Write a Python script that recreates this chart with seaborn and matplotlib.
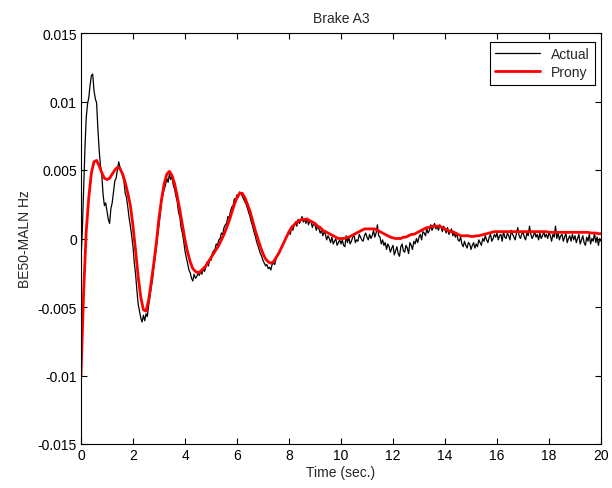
import numpy as np
import pandas as pd
import seaborn as sns
import matplotlib.pyplot as plt

# values, in units of 1e-3 Hz
actual_step = 0.05
actual_mhz = [
    -1.5, 0.5, 3.5, 6.5, 8.8, 9.8, 10.3, 11.2, 11.9, 12.0, 10.8, 10.2, 9.9, 8.0, 6.4, 5.3, 4.6, 3.2, 2.4, 2.6,
    2.0, 1.4, 1.1, 2.2, 2.6, 3.4, 4.2, 4.4, 5.0, 5.6, 5.2, 4.9, 4.6, 4.2, 3.3, 3.0, 2.3, 1.5, 0.9, 0.2,
    -0.6, -1.8, -2.6, -3.8, -4.8, -5.3, -5.8, -6.1, -5.6, -6.0, -5.5, -5.7, -4.9, -4.3, -3.6, -3.0, -2.1, -1.4, -0.6, 0.3,
    1.0, 1.8, 2.7, 3.2, 3.6, 3.9, 4.4, 4.1, 4.7, 4.3, 4.5, 3.9, 3.6, 3.1, 2.7, 1.9, 1.6, 0.8, 0.4, -0.2,
    -0.9, -1.4, -1.8, -2.3, -2.5, -2.9, -3.1, -2.6, -2.9, -2.8, -2.5, -2.7, -2.4, -2.6, -2.2, -2.4, -2.1, -1.7, -2.0, -1.5,
    -1.6, -1.1, -0.9, -0.8, -0.4, -0.5, -0.1, 0.0, 0.4, 0.3, 0.8, 1.0, 1.1, 1.6, 1.5, 2.0, 2.3, 2.4, 2.9, 2.7,
    3.2, 3.0, 3.4, 3.3, 3.1, 2.9, 2.7, 2.5, 2.2, 1.9, 1.6, 1.2, 0.9, 0.5, 0.2, -0.2, -0.5, -0.8, -1.1, -1.3,
    -1.6, -1.8, -2.0, -1.9, -2.2, -2.1, -2.3, -1.9, -1.8, -1.9, -1.5, -1.3, -1.1, -1.0, -0.7, -0.6, -0.3, -0.1, 0.1, 0.3,
    0.5, 0.3, 0.9, 0.6, 1.0, 1.2, 0.9, 1.4, 1.1, 1.3, 1.6, 1.2, 1.4, 1.1, 1.5, 1.0, 1.3, 1.2, 0.8, 1.1,
    1.0, 0.6, 0.9, 0.7, 0.4, 0.6, 0.2, 0.5, 0.3, -0.1, 0.2, 0.0, -0.3, 0.1, -0.4, -0.2, 0.0, -0.5, -0.3, -0.1,
    -0.4, -0.1, -0.5, -0.6, 0.2, -0.3, 0.1, -0.4, -0.2, 0.1, 0.3, -0.3, -0.1, -0.2, 0.3, 0.1, -0.1, -0.2, 0.2, 0.4,
    0.1, -0.1, 0.3, 0.0, 0.2, 0.6, 0.1, 0.4, 1.0, 0.2, 0.1, -0.4, -0.1, -0.5, -0.3, -0.8, -0.4, -0.6, -1.0, -0.7,
    -0.5, -1.2, -0.9, -0.6, -1.1, -1.3, -0.6, -0.4, -0.9, -1.0, -0.5, -0.7, -1.1, -0.3, -0.5, -0.8, -0.2, -0.4, 0.0, -0.3,
    0.1, 0.3, -0.1, 0.5, 0.4, 0.2, 0.7, 0.4, 0.6, 1.0, 0.6, 0.8, 1.1, 0.7, 0.9, 0.6, 1.0, 0.8, 0.5, 0.9,
    0.6, 0.4, 0.8, 0.3, 0.5, 0.7, 0.2, 0.4, 0.1, 0.4, -0.1, -0.2, 0.1, -0.4, -0.6, -0.2, -0.5, -0.7, -0.3, -0.4,
    -0.8, -0.5, -0.3, -0.7, -0.4, -0.6, -0.1, -0.3, -0.5, 0.0, -0.2, 0.2, -0.1, -0.3, 0.1, 0.3, -0.2, 0.0, 0.3, 0.1,
    0.4, -0.1, 0.2, 0.3, -0.2, 0.5, 0.1, 0.0, 0.4, 0.2, -0.1, 0.6, 0.3, 0.1, -0.1, 0.4, 0.8, 0.2, 0.0, 0.3,
    0.5, 0.1, -0.1, 0.4, 0.2, 0.9, 0.3, 0.0, 0.2, 0.5, 0.1, 0.3, -0.1, 0.4, 0.0, 0.2, 0.5, 0.1, 0.3, 0.0,
    0.4, 0.2, -0.2, 0.3, 0.1, 0.9, 0.0, 0.4, -0.1, 0.2, 0.3, -0.2, 0.1, 0.4, -0.3, 0.0, 0.2, -0.2, 0.3, -0.1,
    0.2, -0.3, 0.0, 0.3, -0.4, -0.1, 0.2, -0.3, -0.5, 0.1, -0.2, 0.3, -0.4, 0.0, -0.2, 0.4, -0.3, 0.1, -0.5, 0.0,
    -0.2,
]

prony_step = 0.1
prony_mhz = [
    -10.0, -4.0, 0.5, 3.0, 4.8, 5.6, 5.7, 5.3, 4.8, 4.4,
    4.3, 4.4, 4.7, 5.0, 5.2, 5.1, 4.7, 4.1, 3.3, 2.4,
    0.9, -0.9, -2.8, -4.3, -5.2, -5.3, -4.5, -3.2, -1.8, -0.3,
    1.5, 2.9, 4.0, 4.7, 4.9, 4.6, 4.0, 3.1, 2.1, 1.0,
    -0.1, -1.0, -1.7, -2.2, -2.4, -2.5, -2.4, -2.2, -2.0, -1.7,
    -1.4, -1.1, -0.8, -0.5, -0.1, 0.3, 0.8, 1.3, 1.9, 2.5,
    3.0, 3.3, 3.3, 3.0, 2.5, 2.0, 1.3, 0.6, 0.0, -0.6,
    -1.1, -1.5, -1.7, -1.8, -1.7, -1.4, -1.1, -0.7, -0.3, 0.1,
    0.5, 0.8, 1.0, 1.2, 1.3, 1.4, 1.4, 1.4, 1.3, 1.2,
    1.1, 0.9, 0.8, 0.6, 0.5, 0.4, 0.3, 0.2, 0.1, 0.0,
    0.0, 0.0, 0.05, 0.1, 0.2, 0.3, 0.4, 0.5, 0.6, 0.7,
    0.7, 0.7, 0.7, 0.7, 0.6, 0.5, 0.4, 0.3, 0.2, 0.1,
    0.05, 0.0, 0.0, 0.0, 0.1, 0.1, 0.2, 0.3, 0.3, 0.4,
    0.5, 0.6, 0.7, 0.8, 0.8, 0.9, 0.9, 0.9, 0.9, 0.8,
    0.7, 0.6, 0.5, 0.5, 0.4, 0.3, 0.2, 0.2, 0.2, 0.2,
    0.15, 0.15, 0.2, 0.2, 0.25, 0.3, 0.35, 0.4, 0.45, 0.5,
    0.5, 0.5, 0.5, 0.5, 0.5, 0.5, 0.5, 0.5, 0.5, 0.5,
    0.5, 0.5, 0.5, 0.5, 0.5, 0.5, 0.5, 0.5, 0.5, 0.5,
    0.45, 0.45, 0.45, 0.45, 0.45, 0.45, 0.45, 0.45, 0.45, 0.45,
    0.45, 0.45, 0.45, 0.45, 0.45, 0.45, 0.4, 0.4, 0.4, 0.35,
    0.35,
]

y_labels = ["-0.015", "-0.01", "-0.005", "0", "0.005", "0.01", "0.015"]

actual = pd.DataFrame({
    "time": np.arange(len(actual_mhz)) * actual_step,
    "freq": np.array(actual_mhz) * 1e-3,
})
prony = pd.DataFrame({
    "time": np.arange(len(prony_mhz)) * prony_step,
    "freq": np.array(prony_mhz) * 1e-3,
})

sns.set_style("ticks")
plt.rcParams["font.family"] = ["Liberation Sans", "DejaVu Sans"]
plt.rcParams["font.size"] = 10

fig = plt.figure(figsize=(6.12, 4.89), dpi=100)
ax = fig.add_axes([81 / 612, 1 - 445 / 489, 520 / 612, 411 / 489])

sns.lineplot(data=actual, x="time", y="freq", ax=ax, color="black", linewidth=0.9, label="Actual")
sns.lineplot(data=prony, x="time", y="freq", ax=ax, color="red", linewidth=2.0, label="Prony")

ax.set_xlim(0, 20)
ax.set_ylim(-0.015, 0.015)
ax.set_xticks(np.arange(0, 21, 2))
ax.set_yticks(np.linspace(-0.015, 0.015, 7))
ax.set_yticklabels(y_labels)
ax.tick_params(direction="in", top=True, right=True, length=4, width=0.8,
               labelsize=10, colors="black", pad=3)
for s in ax.spines.values():
    s.set_visible(True)
    s.set_linewidth(0.8)
    s.set_color("black")

ax.set_title("Brake A3", fontsize=10, pad=8)
ax.set_xlabel("Time (sec.)", fontsize=10, labelpad=2)
ax.set_ylabel("BE50-MALN Hz", fontsize=10, labelpad=4)

leg = ax.legend(loc="upper right", bbox_to_anchor=(0.989, 0.979), borderaxespad=0,
                fancybox=False, framealpha=1, edgecolor="black", fontsize=10,
                handlelength=3.2, borderpad=0.4, labelspacing=0.3)
leg.get_frame().set_linewidth(0.8)

fig.savefig("out.png", dpi=100)
